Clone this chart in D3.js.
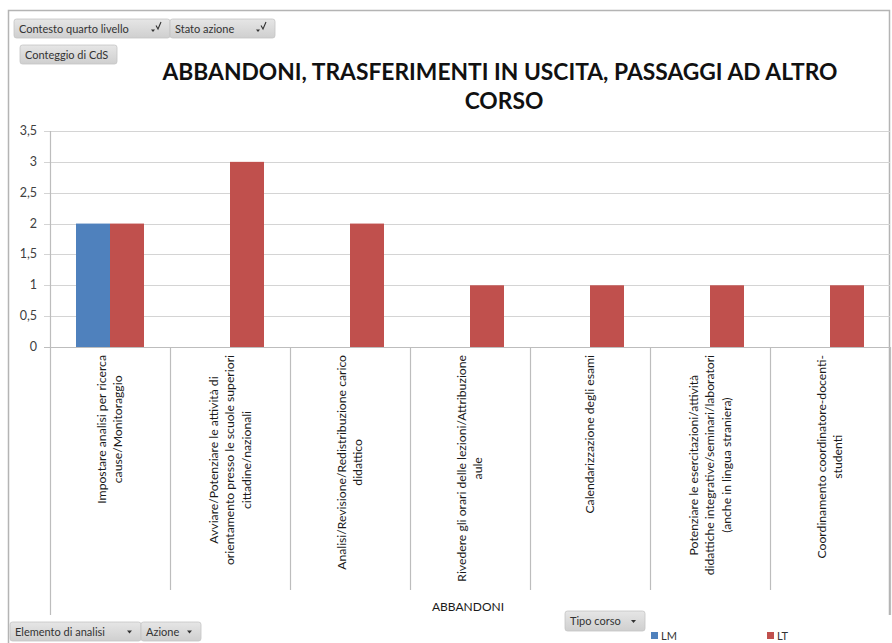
<!DOCTYPE html>
<html>
<head>
<meta charset="utf-8">
<script src="https://cdn.jsdelivr.net/npm/d3@7"></script>
<style>
  body { margin: 0; background: #fff; }
  svg { display: block; font-family: Lato, "Open Sans", sans-serif; }
</style>
</head>
<body>
<div id="chart"></div>
<script>
// dati
let categorie = [
    ["Impostare analisi per ricerca", "cause/Monitoraggio"],
    ["Avviare/Potenziare le attività di", "orientamento presso le scuole superiori", "cittadine/nazionali"],
    ["Analisi/Revisione/Redistribuzione carico", "didattico"],
    ["Rivedere gli orari delle lezioni/Attribuzione", "aule"],
    ["Calendarizzazione  degli esami"],
    ["Potenziare le esercitazioni/attività", "didattiche integrative/seminari/laboratori", "(anche in lingua straniera)"],
    ["Coordinamento coordinatore-docenti-", "studenti"]
];
let serie = ["LM", "LT"];
let valori_LM = [2, null, null, null, null, null, null];
let valori_LT = [2, 3, 2, 1, 1, 1, 1];
let y_ticks = [0, 0.5, 1, 1.5, 2, 2.5, 3, 3.5];

let width = 892;
let height = 643;
let colori = { LM: "#4F81BD", LT: "#C0504D" };

// area del grafico
let plot = { left: 50, right: 890, top: 131, bottom: 347 };

let svg = d3.select("#chart").append("svg")
    .attr("width", width)
    .attr("height", height);

// cornice
svg.append("path")
    .attr("d", "M8.5,643 L8.5,10.5 L889.5,10.5 L889.5,615")
    .attr("fill", "none")
    .attr("stroke", "#b4b4b4")
    .attr("stroke-width", 1.5);

let x0 = d3.scaleBand()
    .domain(d3.range(categorie.length))
    .range([plot.left, plot.right]);

let x1 = d3.scaleBand()
    .domain(serie)
    .range([0, x0.bandwidth()])
    .paddingOuter(0.765);

let y = d3.scaleLinear()
    .domain([0, 3.5])
    .range([plot.bottom, plot.top]);

let fmt = v => String(v).replace(".", ",");

// griglia
svg.append("g")
    .selectAll("line")
    .data(y_ticks)
    .join("line")
    .attr("x1", plot.left - 6)
    .attr("x2", plot.right)
    .attr("y1", d => Math.round(y(d)) + 0.5)
    .attr("y2", d => Math.round(y(d)) + 0.5)
    .attr("stroke", d => d === 0 ? "#bdbdbd" : "#d4d4d4")
    .attr("stroke-width", 1.2);

// etichette asse y
svg.append("g")
    .selectAll("text")
    .data(y_ticks)
    .join("text")
    .attr("x", 37)
    .attr("y", d => y(d) + 4)
    .attr("text-anchor", "end")
    .style("font-size", "12.5px")
    .style("fill", "#404040")
    .text(fmt);

// separatori categorie
let sep = d3.range(categorie.length + 1).map(i => plot.left + i * x0.bandwidth());
svg.append("g")
    .selectAll("line")
    .data(sep)
    .join("line")
    .attr("x1", d => Math.round(d) + 0.5)
    .attr("x2", d => Math.round(d) + 0.5)
    .attr("y1", (d, i) => i === 0 ? plot.top : plot.bottom)
    .attr("y2", (d, i) => (i === 0 || i === categorie.length) ? 615 : 590)
    .attr("stroke", "#bdbdbd")
    .attr("stroke-width", 1.2);

// barre
let righe = serie.map(s => ({ s: s, v: s === "LM" ? valori_LM : valori_LT }));
svg.append("g")
    .selectAll("g")
    .data(righe)
    .join("g")
    .attr("fill", d => colori[d.s])
    .selectAll("rect")
    .data(d => d.v.map((v, i) => ({ s: d.s, v: v, i: i })).filter(d => d.v !== null))
    .join("rect")
    .attr("x", d => x0(d.i) + x1(d.s))
    .attr("y", d => y(d.v))
    .attr("width", x1.bandwidth())
    .attr("height", d => y(0) - y(d.v));

// etichette categorie (ruotate)
let lineH = 16.5;
categorie.forEach((righeTesto, i) => {
    let cx = x0(i) + x0.bandwidth() / 2;
    let g = svg.append("g");
    let t = g.append("text")
        .attr("text-anchor", "middle")
        .style("font-size", "12.2px")
        .style("fill", "#1a1a1a");
    righeTesto.forEach((r, k) => {
        t.append("tspan")
            .attr("x", 0)
            .attr("y", (k - (righeTesto.length - 1) / 2) * lineH + 4)
            .text(r);
    });
    let maxLen = d3.max(t.selectAll("tspan").nodes(), n => n.getComputedTextLength());
    g.attr("transform", "translate(" + cx + "," + (355 + maxLen / 2) + ") rotate(-90)");
});

// titolo asse
svg.append("text")
    .attr("x", 468)
    .attr("y", 611)
    .attr("text-anchor", "middle")
    .style("font-size", "12px")
    .style("fill", "#1a1a1a")
    .text("ABBANDONI");

// titolo
let titolo = svg.append("text")
    .attr("text-anchor", "middle")
    .style("font-size", "22.8px")
    .style("font-weight", "bold")
    .style("fill", "#111");
titolo.append("tspan").attr("x", 500).attr("y", 80).text("ABBANDONI, TRASFERIMENTI IN USCITA, PASSAGGI AD ALTRO");
titolo.append("tspan").attr("x", 504).attr("y", 109).text("CORSO");

// pulsanti campo
let defs = svg.append("defs");
let grad = defs.append("linearGradient").attr("id", "btn").attr("x1", 0).attr("y1", 0).attr("x2", 0).attr("y2", 1);
grad.append("stop").attr("offset", "0%").attr("stop-color", "#e6e6e6");
grad.append("stop").attr("offset", "100%").attr("stop-color", "#cfcfcf");

function pulsante(x, yy, w, h, testo, icona) {
    let g = svg.append("g").attr("transform", "translate(" + x + "," + yy + ")");
    g.append("rect")
        .attr("width", w).attr("height", h)
        .attr("rx", 2.5)
        .attr("fill", "url(#btn)")
        .attr("stroke", "#c4c4c4")
        .attr("stroke-width", 0.8);
    g.append("text")
        .attr("x", 5).attr("y", h / 2 + 4)
        .style("font-size", "11px")
        .style("fill", "#333")
        .text(testo);
    if (icona === "filtro") {
        g.append("path")
            .attr("d", "M" + (w - 19) + "," + (h / 2 + 1) + " l4,0 l-2,2.5 z")
            .attr("fill", "#333");
        g.append("path")
            .attr("d", "M" + (w - 14) + "," + (h / 2 - 3) + " l2,3.5 l3,-7")
            .attr("fill", "none").attr("stroke", "#333").attr("stroke-width", 1.1);
    } else if (icona === "menu") {
        g.append("path")
            .attr("d", "M" + (w - 14) + "," + (h / 2 - 1) + " l5,0 l-2.5,3 z")
            .attr("fill", "#333");
    }
}

pulsante(14, 19, 156, 19, "Contesto quarto livello", "filtro");
pulsante(170, 19, 105, 19, "Stato azione", "filtro");
pulsante(20, 45, 97, 19, "Conteggio di CdS", null);
pulsante(10, 622, 131, 19, "Elemento di analisi", "menu");
pulsante(141, 622, 60, 19, "Azione", "menu");
pulsante(565, 611, 80, 20, "Tipo corso", "menu");

// legenda
let leg = svg.append("g")
    .selectAll("g")
    .data(serie)
    .join("g")
    .attr("transform", (d, i) => "translate(" + (651 + i * 116) + ",632)");
leg.append("rect")
    .attr("width", 7).attr("height", 7)
    .attr("fill", d => colori[d]);
leg.append("text")
    .attr("x", 10).attr("y", 8)
    .style("font-size", "11px")
    .style("fill", "#333")
    .text(d => d);
</script>
</body>
</html>
